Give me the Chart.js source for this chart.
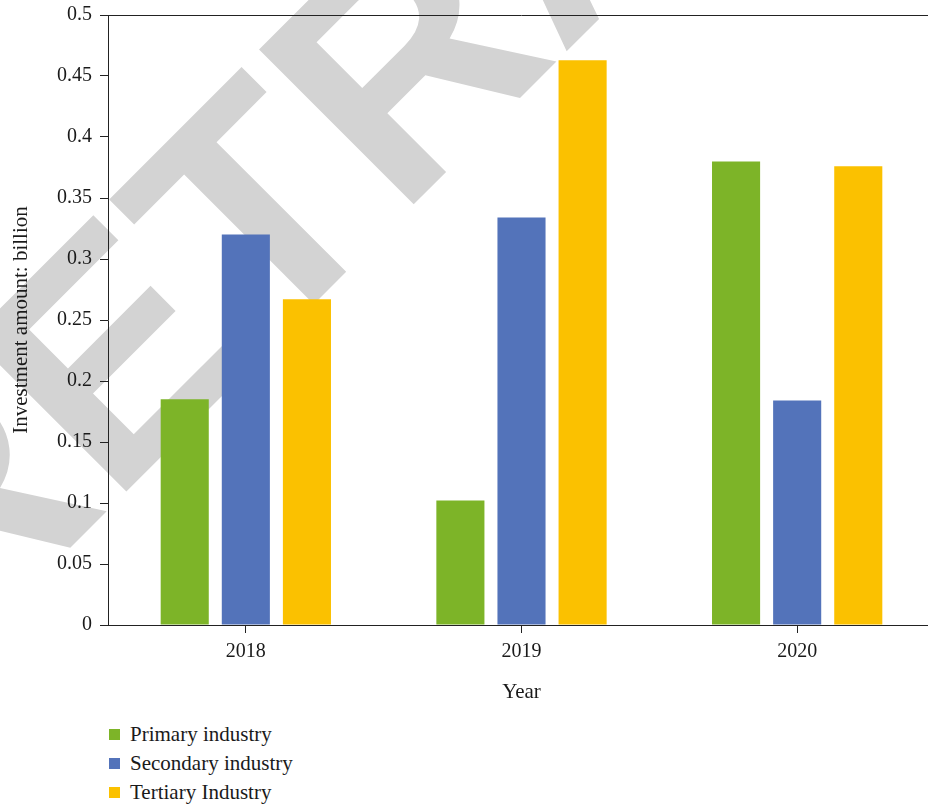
<!DOCTYPE html>
<html>
<head>
<meta charset="utf-8">
<script src="https://cdn.jsdelivr.net/npm/chart.js@4.4.0/dist/chart.umd.min.js"></script>
<style>
    html, body { margin: 0; padding: 0; background: #fff; overflow: hidden; }
    #wrap { position: relative; width: 935px; height: 806px; }
    #legend { position: absolute; left: 109px; top: 720px; margin: 0; padding: 0; list-style: none;
              font-family: 'Liberation Serif', serif; font-size: 21px; color: #1a1a1a; }
    #legend li { height: 29px; line-height: 29px; display: flex; align-items: center; white-space: nowrap; }
    #legend .box { width: 11px; height: 11px; margin-right: 10px; display: inline-block; }
</style>
</head>
<body>
<div id="wrap">
    <canvas id="chart" width="935" height="712"></canvas>
    <ul id="legend"></ul>
</div>
<script>
// Data
const years = ['2018', '2019', '2020'];
const seriesNames = ['Primary industry', 'Secondary industry', 'Tertiary Industry'];
const primaryValues = [0.185, 0.102, 0.380];
const secondaryValues = [0.320, 0.334, 0.184];
const tertiaryValues = [0.267, 0.463, 0.376];
const seriesColors = ['#7db428', '#5373ba', '#fbc100'];
const yTickValues = [0, 0.05, 0.1, 0.15, 0.2, 0.25, 0.3, 0.35, 0.4, 0.45, 0.5];
const yTickLabels = ['0', '0.05', '0.1', '0.15', '0.2', '0.25', '0.3', '0.35', '0.4', '0.45', '0.5'];

const FONT = "'Liberation Serif', serif";
const INK = '#1a1a1a';
const AXIS = '#222';

// grey "RETRACTED" stamp behind everything
const watermark = {
    id: 'watermark',
    beforeDraw(chart) {
        const ctx = chart.ctx;
        ctx.save();
        ctx.font = 'bold 318px "Liberation Sans"';
        ctx.fillStyle = '#d3d3d3';
        const lead = ctx.measureText('RE').width + ctx.measureText('T').width / 2;
        ctx.translate(330, 288);
        ctx.rotate(-Math.PI / 4);
        ctx.textBaseline = 'alphabetic';
        ctx.fillText('RETRACTED', -lead, 0);
        ctx.restore();
    }
};

// top frame line across the plot
const topFrame = {
    id: 'topFrame',
    afterDraw(chart) {
        const { ctx, chartArea } = chart;
        ctx.save();
        ctx.strokeStyle = AXIS;
        ctx.lineWidth = 1;
        ctx.beginPath();
        ctx.moveTo(chartArea.left, Math.round(chartArea.top) + 0.5);
        ctx.lineTo(chart.width, Math.round(chartArea.top) + 0.5);
        ctx.stroke();
        ctx.restore();
    }
};

const datasets = [primaryValues, secondaryValues, tertiaryValues].map((vals, i) => ({
    label: seriesNames[i],
    data: vals,
    backgroundColor: seriesColors[i],
    borderWidth: 0,
    categoryPercentage: 0.665,
    barPercentage: 0.787
}));

const chart = new Chart(document.getElementById('chart'), {
    type: 'bar',
    data: { labels: years, datasets },
    options: {
        responsive: false,
        animation: false,
        layout: { padding: { top: 15, right: 0, bottom: 0, left: 0 } },
        scales: {
            x: {
                offset: true,
                grid: { display: true, offset: false, drawOnChartArea: false, drawTicks: true, tickLength: 8, color: AXIS },
                border: { display: true, color: AXIS, width: 1 },
                ticks: { color: INK, font: { family: FONT, size: 20 }, padding: 7 },
                title: { display: true, text: 'Year', color: INK, font: { family: FONT, size: 21 }, padding: { top: 0, bottom: 7 } },
                afterFit(scale) { scale.height = 87; }
            },
            y: {
                min: 0, max: 0.5,
                afterBuildTicks(scale) { scale.ticks = yTickValues.map(v => ({ value: v })); },
                grid: { display: true, drawOnChartArea: false, drawTicks: true, tickLength: 8, color: AXIS },
                border: { display: true, color: AXIS, width: 1 },
                ticks: {
                    color: INK, font: { family: FONT, size: 20 }, padding: 8,
                    callback: (v) => yTickLabels[yTickValues.findIndex(t => Math.abs(t - v) < 1e-9)]
                },
                title: { display: true, text: 'Investment amount: billion', color: INK, font: { family: FONT, size: 21 }, padding: { top: 9, bottom: 0 } },
                afterFit(scale) { scale.width = 108; scale.paddingTop = 0; scale.paddingBottom = 0; }
            }
        },
        plugins: {
            legend: { display: false },
            tooltip: { enabled: false }
        }
    },
    plugins: [watermark, topFrame]
});

// vertical legend under the chart
const legendEl = document.getElementById('legend');
chart.data.datasets.forEach(ds => {
    const li = document.createElement('li');
    const box = document.createElement('span');
    box.className = 'box';
    box.style.background = ds.backgroundColor;
    li.appendChild(box);
    li.appendChild(document.createTextNode(ds.label));
    legendEl.appendChild(li);
});
</script>
</body>
</html>
